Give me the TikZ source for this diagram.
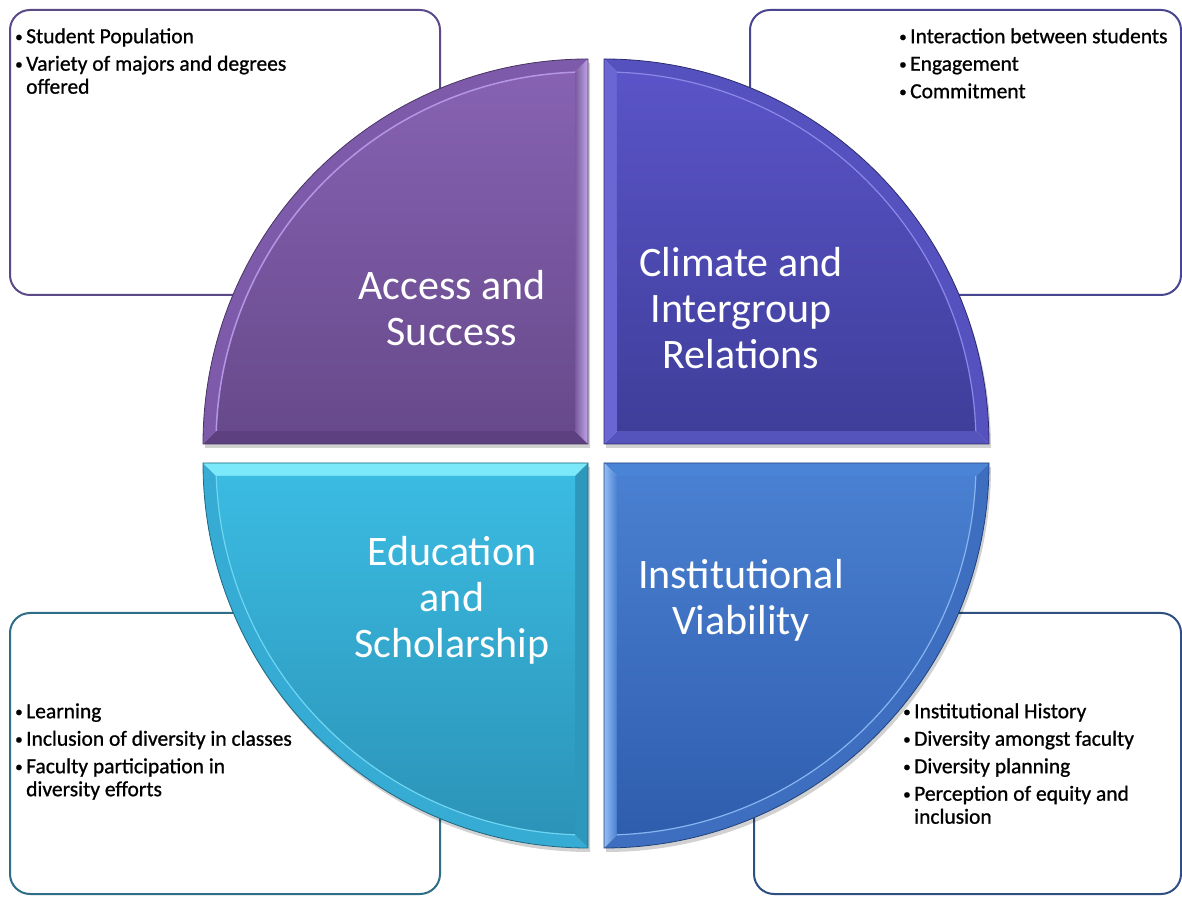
\documentclass[tikz,border=0pt]{standalone}
\usepackage{fontspec}
\setmainfont{Carlito}
\newfontface\itemface{Carlito}[FakeBold=0.9]
\definecolor{tlA}{HTML}{8762B3}\definecolor{tlB}{HTML}{674A8B}
\definecolor{tlH}{HTML}{5C4080}\definecolor{tlV}{HTML}{C2A4EC}\definecolor{tlR}{HTML}{7D5BAA}\definecolor{tlL}{HTML}{B596E6}
\definecolor{trA}{HTML}{5A54C8}\definecolor{trB}{HTML}{3F3E9A}
\definecolor{trH}{HTML}{5553BC}\definecolor{trV}{HTML}{6A66D4}\definecolor{trR}{HTML}{5552C0}\definecolor{trL}{HTML}{8C88E8}
\definecolor{blA}{HTML}{3BBBE2}\definecolor{blB}{HTML}{2C93B7}
\definecolor{blH}{HTML}{7BE9FA}\definecolor{blV}{HTML}{2E98BC}\definecolor{blR}{HTML}{36ABD4}\definecolor{blL}{HTML}{6ED6F2}
\definecolor{brA}{HTML}{4A80D1}\definecolor{brB}{HTML}{2F5DAE}
\definecolor{brH}{HTML}{4A84D6}\definecolor{brV}{HTML}{93BEF4}\definecolor{brR}{HTML}{3E6EC0}\definecolor{brL}{HTML}{88B4F0}
\definecolor{bxTL}{HTML}{5B4A87}\definecolor{bxTR}{HTML}{484690}
\definecolor{bxBL}{HTML}{2F6E86}\definecolor{bxBR}{HTML}{2E4F82}
\tikzset{
  box/.style={draw=#1, line width=2pt, fill=white, rounded corners=20pt, inner sep=0pt, outer sep=0pt},
  bigtext/.style={text=white, align=center, inner sep=0pt, anchor=north,
    font={\fontsize{42}{46}\selectfont}},
  itemtext/.style={text=black, align=left, inner sep=0pt, anchor=north west,
    font={\itemface\fontsize{21.5}{23}\selectfont}},
  qshadow/.style={fill=black, fill opacity=0.18},
  qedge/.style={draw=#1, line width=0.8pt},
}
\newcommand{\bl}{\makebox[11pt][l]{\raisebox{1.5pt}{\scalebox{0.7}{•}}}}
\newcommand{\ind}{\hspace*{11pt}}
\begin{document}
\begin{tikzpicture}[x=1pt,y=1pt]
\useasboundingbox (0,0) rectangle (1182,896);
\fill[white] (0,0) rectangle (1182,896);
% boxes
\node[box=bxTL, minimum width=430pt, minimum height=285pt] (boxTL) at (225,743.5) {};
\node[box=bxTR, minimum width=431pt, minimum height=285pt] (boxTR) at (965.5,743.5) {};
\node[box=bxBL, minimum width=430pt, minimum height=281pt] (boxBL) at (225,142.5) {};
\node[box=bxBR, minimum width=427pt, minimum height=281pt] (boxBR) at (967.5,142.5) {};
% shadows
\fill[qshadow] (590,448) -- (205,448) arc[start angle=180,end angle=90,radius=385] -- cycle;
\fill[qshadow] (606,448) -- (991,448) arc[start angle=0,end angle=90,radius=385] -- cycle;
\fill[qshadow] (590,429) -- (205,429) arc[start angle=180,end angle=270,radius=385] -- cycle;
\fill[qshadow] (606,429) -- (991,429) arc[start angle=0,end angle=-90,radius=385] -- cycle;
% ---- top-left quadrant
\fill[tlR] (203,452) arc[start angle=180,end angle=90,radius=385] -- (575,823.77) arc[start angle=92,end angle=178,radius=372] -- cycle;
\fill[tlH] (588,452) -- (203,452) -- (216.23,465) -- (575,465) -- cycle;
\shade[left color=tlB!80!tlV, right color=tlV] (588,452) -- (588,837) -- (575,823.77) -- (575,465) -- cycle;
\shade[top color=tlA, bottom color=tlB] (575,465) -- (216.23,465) arc[start angle=178,end angle=92,radius=372] -- cycle;
\draw[tlL, line width=1.5pt] (216.23,465) arc[start angle=178,end angle=92,radius=372];
\draw[qedge=tlB!70!black] (588,452) -- (203,452) arc[start angle=180,end angle=90,radius=385] -- cycle;
% ---- top-right quadrant
\fill[trR] (989,452) arc[start angle=0,end angle=90,radius=385] -- (617,823.77) arc[start angle=88,end angle=2,radius=372] -- cycle;
\fill[trH] (604,452) -- (989,452) -- (975.77,465) -- (617,465) -- cycle;
\fill[trV] (604,452) -- (604,837) -- (617,823.77) -- (617,465) -- cycle;
\shade[top color=trA, bottom color=trB] (617,465) -- (975.77,465) arc[start angle=2,end angle=88,radius=372] -- cycle;
\draw[trL, line width=1.2pt] (975.77,465) arc[start angle=2,end angle=88,radius=372];
\draw[qedge=trB!70!black] (604,452) -- (989,452) arc[start angle=0,end angle=90,radius=385] -- cycle;
% ---- bottom-left quadrant
\fill[blR] (203,433) arc[start angle=180,end angle=270,radius=385] -- (575,61.23) arc[start angle=268,end angle=182,radius=372] -- cycle;
\fill[blH] (588,433) -- (203,433) -- (216.23,420) -- (575,420) -- cycle;
\fill[blV] (588,433) -- (588,48) -- (575,61.23) -- (575,420) -- cycle;
\shade[top color=blA, bottom color=blB] (575,420) -- (216.23,420) arc[start angle=182,end angle=268,radius=372] -- cycle;
\draw[blL, line width=1.2pt] (216.23,420) arc[start angle=182,end angle=268,radius=372];
\draw[qedge=blB!70!black] (588,433) -- (203,433) arc[start angle=180,end angle=270,radius=385] -- cycle;
% ---- bottom-right quadrant
\fill[brR] (989,433) arc[start angle=0,end angle=-90,radius=385] -- (617,61.23) arc[start angle=-88,end angle=-2,radius=372] -- cycle;
\fill[brH] (604,433) -- (989,433) -- (975.77,420) -- (617,420) -- cycle;
\shade[left color=brV, right color=brA] (604,433) -- (604,48) -- (617,61.23) -- (617,420) -- cycle;
\shade[top color=brA, bottom color=brB] (617,420) -- (975.77,420) arc[start angle=-2,end angle=-88,radius=372] -- cycle;
\draw[brL, line width=1.2pt] (975.77,420) arc[start angle=-2,end angle=-88,radius=372];
\draw[qedge=brB!70!black] (604,433) -- (989,433) arc[start angle=0,end angle=-90,radius=385] -- cycle;
% big labels
\node[bigtext] (access) at (452,631) {\rule{0pt}{34pt}Access and\\Success};
\node[bigtext] (climate) at (741,654) {\rule{0pt}{34pt}Climate and\\Intergroup\\Relations};
\node[bigtext] (education) at (452,365) {\rule{0pt}{34pt}Education\\and\\Scholarship};
\node[bigtext] (institutional) at (741,342) {\rule{0pt}{34pt}Institutional\\Viability};
% item lists
\node[itemtext] (itemsTL) at (15,871) {\rule{0pt}{18pt}\bl Student Population\\[4.5pt]\bl Variety of majors and degrees\\\ind offered};
\node[itemtext] (itemsTR) at (899,871) {\rule{0pt}{18pt}\bl Interaction between students\\[4.5pt]\bl Engagement\\[4.5pt]\bl Commitment};
\node[itemtext] (itemsBL) at (15,196) {\rule{0pt}{18pt}\bl Learning\\[4.5pt]\bl Inclusion of diversity in classes\\[4.5pt]\bl Faculty participation in\\\ind diversity efforts};
\node[itemtext] (itemsBR) at (903,196) {\rule{0pt}{18pt}\bl Institutional History\\[4.5pt]\bl Diversity amongst faculty\\[4.5pt]\bl Diversity planning\\[4.5pt]\bl Perception of equity and\\\ind inclusion};
\end{tikzpicture}
\end{document}
